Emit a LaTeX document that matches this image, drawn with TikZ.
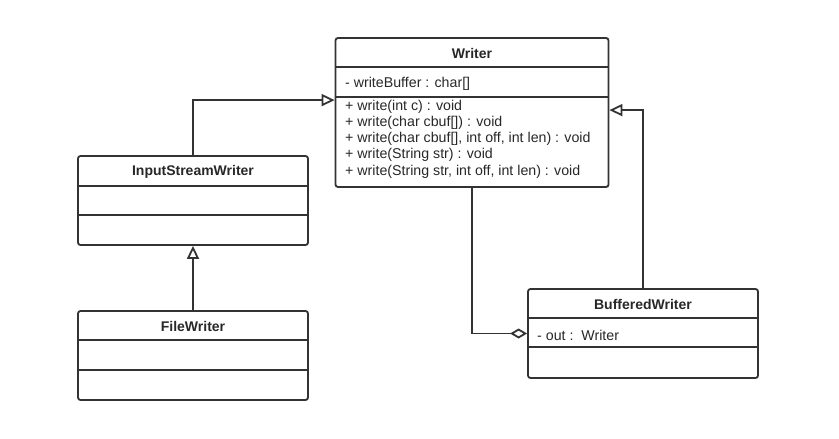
\documentclass[tikz,border=0pt]{standalone}
\usepackage{fontspec}
\setmainfont{Liberation Sans}
\definecolor{LineGray}{RGB}{51,51,51}
\definecolor{TextGray}{RGB}{40,40,40}
\usetikzlibrary{arrows.meta,positioning,calc}

\begin{document}
\begin{tikzpicture}[x=1pt,y=-1pt,
  cls/.style={draw=LineGray,line width=1.8pt,rounded corners=2.5pt,fill=white,inner sep=0pt,minimum width=230pt,minimum height=89pt},
  ctitle/.style={text=TextGray,font=\fontsize{14}{15}\selectfont\bfseries},
  member/.style={text=TextGray,font=\fontsize{14.2}{16.3}\selectfont,align=left,anchor=west,inner sep=0pt},
  divline/.style={draw=LineGray,line width=1.8pt},
  inherit/.style={draw=LineGray,line width=1.8pt,-{Triangle[open,length=13pt,width=12pt]}},
  aggr/.style={draw=LineGray,line width=1.8pt,-{Diamond[open,length=17pt,width=10pt]}}]
\fill[white] (0,0) rectangle (839,439);
\useasboundingbox (0,0) rectangle (839,439);

% Writer
\node[cls,minimum width=273pt,minimum height=149pt] (writer) at (472,112.5) {};
\node[ctitle] (writertitle) at (472,53) {Writer};
\draw[divline] ([yshift=-30pt]writer.north west) -- ([yshift=-30pt]writer.north east);
\draw[divline] ([yshift=-60pt]writer.north west) -- ([yshift=-60pt]writer.north east);
\node[member] (writerattr) at (345,84) {- writeBuffer : char[]};
\node[member] (writerops) at (345,139) {+ write(int c) : void\\
+ write(char cbuf[]) : void\\
+ write(char cbuf[], int off, int len) : void\\
+ write(String str) : void\\
+ write(String str, int off, int len) : void};

% InputStreamWriter
\node[cls] (isw) at (193,200.5) {};
\node[ctitle] (iswtitle) at (193,171.5) {InputStreamWriter};
\draw[divline] ([yshift=-31pt]isw.north west) -- ([yshift=-31pt]isw.north east);
\draw[divline] ([yshift=-60pt]isw.north west) -- ([yshift=-60pt]isw.north east);

% FileWriter
\node[cls] (fw) at (193,355.5) {};
\node[ctitle] (fwtitle) at (193,326) {FileWriter};
\draw[divline] ([yshift=-30pt]fw.north west) -- ([yshift=-30pt]fw.north east);
\draw[divline] ([yshift=-60pt]fw.north west) -- ([yshift=-60pt]fw.north east);

% BufferedWriter
\node[cls] (bw) at (643,333.5) {};
\node[ctitle] (bwtitle) at (643,304) {BufferedWriter};
\draw[divline] ([yshift=-30pt]bw.north west) -- ([yshift=-30pt]bw.north east);
\draw[divline] ([yshift=-59pt]bw.north west) -- ([yshift=-59pt]bw.north east);
\node[member] (bwattr) at (537,335) {- out :\ \ Writer};

% relations
\draw[inherit] (isw.north) |- ([yshift=-63pt]writer.north west);
\draw[inherit] (fw.north) -- (isw.south);
\draw[inherit] (bw.north) |- ([yshift=-73pt]writer.north east);
\draw[aggr] (writer.south) |- (bw.west);
\end{tikzpicture}
\end{document}
